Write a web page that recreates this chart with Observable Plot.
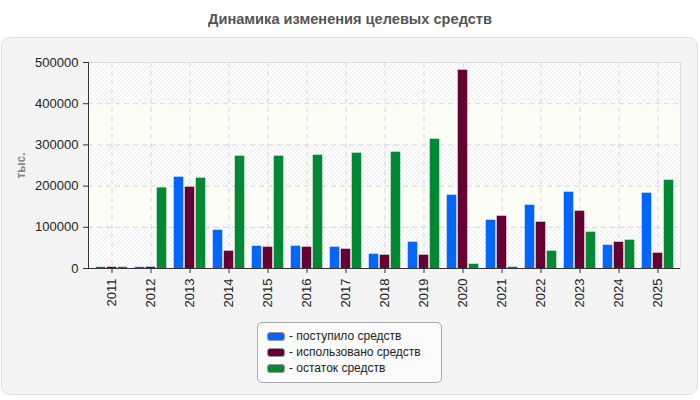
<!DOCTYPE html>
<html>
<head>
<meta charset="utf-8">
<script src="https://cdn.jsdelivr.net/npm/d3@7"></script>
<script src="https://cdn.jsdelivr.net/npm/@observablehq/plot@0.6"></script>
<style>
  body { margin: 0; width: 700px; height: 400px; background: #fff; position: relative; overflow: hidden;
         font-family: "Liberation Sans", Arial, sans-serif; }
  #title { position: absolute; left: 0; top: 11px; width: 700px; text-align: center; font-weight: bold;
           font-size: 14.6px; line-height: 17px; color: #555; }
  #panel { position: absolute; left: 1px; top: 37px; width: 695px; height: 356px; background: #f4f4f4;
           border: 1px solid #e0e0e0; border-radius: 9px; }
  #chart { position: absolute; left: 0; top: 40px; }
  #chart g[aria-label="y-axis label"] text { fill: #888; font-weight: bold; font-size: 12px; }
  #legend { position: absolute; left: 257px; top: 322px; width: 185px; height: 61px; box-sizing: border-box;
            border: 1px solid #aaa; border-radius: 5px; background: #fbfbfb; padding-top: 5px;
            font-size: 12px; color: #222; }
  .item { height: 16px; line-height: 16px; display: flex; align-items: center; padding-left: 9px; }
  .sw { width: 16px; height: 7px; border: 1px solid #999; border-radius: 3px; margin-right: 4px; }
</style>
</head>
<body>
<div id="title">Динамика изменения целевых средств</div>
<div id="panel"></div>
<div id="chart"></div>
<div id="legend"></div>
<script>
// Years and the three series (thousands of roubles)
const years = ["2011", "2012", "2013", "2014", "2015", "2016", "2017", "2018",
               "2019", "2020", "2021", "2022", "2023", "2024", "2025"];
const received = [3000, 3000, 221600, 93000, 54100, 54100, 51700, 34700,
                  63800, 177900, 117200, 153600, 185200, 56500, 182800];
const used = [3000, 3000, 197300, 42000, 51700, 51700, 46800, 32300,
              32300, 481300, 126900, 112400, 139100, 63800, 37100];
const balance = [3000, 195600, 219200, 272600, 272600, 275000, 279900, 282300,
                 313800, 10400, 3000, 42000, 88100, 68700, 214300];

const seriesNames = ["поступило средств", "использовано средств", "остаток средств"];
const seriesColors = ["#0066ff", "#660033", "#008833"];
const yTicks = [0, 100000, 200000, 300000, 400000, 500000];

const rows = years.map((year, i) => ({year, received: received[i], used: used[i], balance: balance[i]}));
// Alternating background stripes between neighbouring y ticks
const stripes = d3.pairs(yTicks).map(([y1, y2], i) => ({y1, y2, hatched: i % 2 === 0}));

const barW = 10, step = 11;
const bandW = 592 / years.length;
const inset = (bandW - barW) / 2;
const seriesKeys = ["received", "used", "balance"];

const chart = Plot.plot({
  width: 700,
  height: 280,
  marginLeft: 88,
  marginRight: 20,
  marginTop: 22,
  marginBottom: 52,
  style: {fontFamily: "Liberation Sans, Arial, sans-serif", fontSize: "13px", color: "#222", background: "transparent", overflow: "visible"},
  x: {type: "band", domain: years, padding: 0, label: null},
  y: {domain: [0, 500000], label: "тыс."},
  marks: [
    Plot.barY(stripes.filter(d => !d.hatched), {y1: "y1", y2: "y2", fill: "#fcfdf4"}),
    Plot.barY(stripes.filter(d => d.hatched), {y1: "y1", y2: "y2", fill: "url(#hatch)"}),
    Plot.gridY(yTicks.slice(1, -1), {stroke: "#d6d6d6", strokeOpacity: 1, strokeDasharray: "5,4"}),
    Plot.gridX({stroke: "#d6d6d6", strokeOpacity: 1, strokeDasharray: "5,4"}),
    Plot.frame({stroke: "#dcdcdc"}),
    ...seriesKeys.map((key, s) => Plot.barY(rows, {
      x: "year", y: key, fill: seriesColors[s],
      insetLeft: inset, insetRight: inset, dx: (s - 1) * step
    })),
    Plot.ruleY([0], {stroke: "#333"}),
    Plot.frame({anchor: "left", stroke: "#333"}),
    Plot.axisY({ticks: yTicks, tickFormat: "d", tickSize: 5, tickPadding: 5, label: "тыс.",
                labelArrow: "none", labelAnchor: "center", labelOffset: 72, stroke: "#333"}),
    Plot.axisX({tickRotate: -90, tickSize: 5, tickPadding: 5, label: null, stroke: "#333"})
  ]
});

// Diagonal hatch used by every other background stripe
const defs = d3.select(chart).insert("defs", ":first-child");
const pat = defs.append("pattern").attr("id", "hatch").attr("patternUnits", "userSpaceOnUse")
  .attr("width", 4).attr("height", 4);
pat.append("rect").attr("width", 4).attr("height", 4).attr("fill", "#ffffff");
pat.append("path").attr("d", "M-1,1 l2,-2 M0,4 l4,-4 M3,5 l2,-2")
  .attr("stroke", "#ececec").attr("stroke-width", 1);

document.getElementById("chart").appendChild(chart);

// Legend
const legend = d3.select("#legend");
seriesNames.forEach((name, i) => {
  const item = legend.append("div").attr("class", "item");
  item.append("div").attr("class", "sw").style("background", seriesColors[i]);
  item.append("span").text("- " + name);
});
</script>
</body>
</html>
